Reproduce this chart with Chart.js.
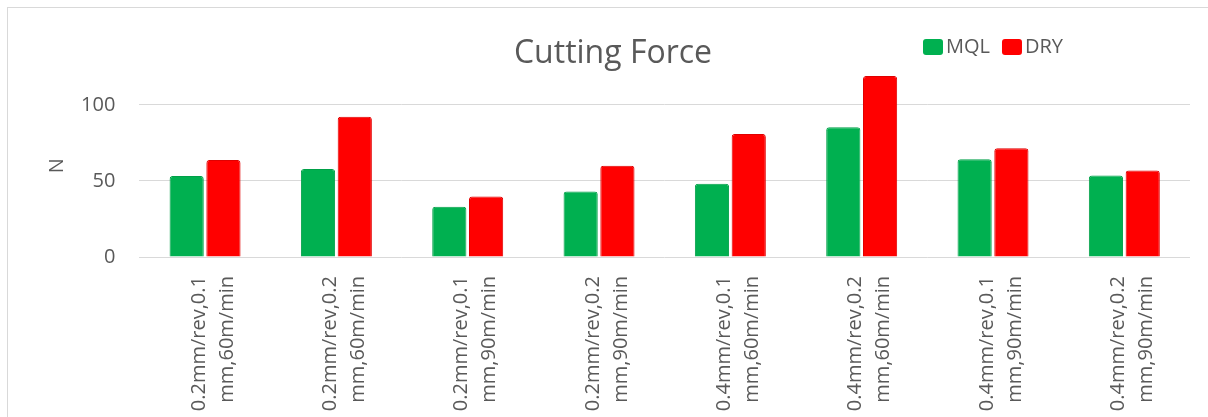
<!DOCTYPE html>
<html>
<head>
<meta charset="utf-8">
<title>Cutting Force</title>
<script src="https://cdn.jsdelivr.net/npm/chart.js@4"></script>
<style>
    html, body { margin: 0; padding: 0; background: #fff; overflow: hidden; width: 1208px; height: 417px; }
    #frame {
        position: absolute; left: 7px; top: 7px;
        width: 1230px; height: 420px;
        border: 1px solid #d9d9d9; background: #fff;
    }
</style>
</head>
<body>
<div id="frame"><canvas id="forceChart"></canvas></div>
<script>
// feed / depth of cut / speed combinations
const categories = [
    ['0.2mm/rev,0.1', 'mm,60m/min'],
    ['0.2mm/rev,0.2', 'mm,60m/min'],
    ['0.2mm/rev,0.1', 'mm,90m/min'],
    ['0.2mm/rev,0.2', 'mm,90m/min'],
    ['0.4mm/rev,0.1', 'mm,60m/min'],
    ['0.4mm/rev,0.2', 'mm,60m/min'],
    ['0.4mm/rev,0.1', 'mm,90m/min'],
    ['0.4mm/rev,0.2', 'mm,90m/min']
];
const mqlForce = [53.3, 57.8, 33.1, 43.0, 48.2, 85.3, 64.3, 53.5];
const dryForce = [63.8, 92.2, 39.7, 60.0, 80.9, 119.0, 71.5, 56.8];
const yTicks = [0, 50, 100];

const textGray = '#595959';
const gridGray = '#d9d9d9';

// legend drawn on the title line, right of the title
const sideLegend = {
    id: 'sideLegend',
    afterDraw(chart) {
        const ctx = chart.ctx;
        ctx.save();
        ctx.font = '20px "Open Sans"';
        ctx.textBaseline = 'middle';
        ctx.textAlign = 'left';
        let x = 915;
        const y = 39;
        chart.data.datasets.forEach(ds => {
            ctx.fillStyle = ds.backgroundColor;
            ctx.beginPath();
            ctx.roundRect(x, y - 8, 20, 16, 3);
            ctx.fill();
            x += 23;
            ctx.fillStyle = textGray;
            ctx.fillText(ds.label, x, y);
            x += ctx.measureText(ds.label).width + 12;
        });
        ctx.restore();
    }
};

const ctx = document.getElementById('forceChart').getContext('2d');
const forceChart = new Chart(ctx, {
    type: 'bar',
    data: {
        labels: categories,
        datasets: [{
            label: 'MQL',
            data: mqlForce,
            backgroundColor: '#00b050',
            borderColor: '#00a048',
            borderWidth: 1,
            borderRadius: 3
        }, {
            label: 'DRY',
            data: dryForce,
            backgroundColor: '#ff0000',
            borderColor: '#e00000',
            borderWidth: 1,
            borderRadius: 3
        }]
    },
    options: {
        responsive: true,
        maintainAspectRatio: false,
        animation: false,
        categoryPercentage: 0.56,
        barPercentage: 0.93,
        layout: { padding: { left: 28, right: 48, top: 0, bottom: 0 } },
        plugins: {
            legend: { display: false },
            tooltip: { enabled: false },
            title: {
                display: true,
                text: 'Cutting Force',
                color: textGray,
                font: { family: '"Open Sans"', size: 32, weight: 'normal' },
                padding: { top: 27, bottom: 1 }
            }
        },
        scales: {
            x: {
                grid: { display: false, drawTicks: false },
                border: { display: false },
                ticks: {
                    color: textGray,
                    font: { family: '"Open Sans"', size: 20, lineHeight: 1.4 },
                    minRotation: 90,
                    maxRotation: 90,
                    autoSkip: false,
                    padding: 19,
                    labelOffset: -6
                },
                afterFit(scale) { scale.height = 171; }
            },
            y: {
                min: 0,
                max: 120,
                grid: { color: gridGray, drawTicks: false },
                border: { display: false },
                ticks: {
                    color: textGray,
                    font: { family: '"Open Sans"', size: 20 },
                    padding: 24
                },
                title: {
                    display: true,
                    text: 'N',
                    color: textGray,
                    font: { family: '"Open Sans"', size: 20 },
                    padding: { top: 9, bottom: 0 }
                },
                afterBuildTicks(scale) {
                    scale.ticks = yTicks.map(v => ({ value: v }));
                },
                afterFit(scale) { scale.width = 103.4; }
            }
        }
    },
    plugins: [sideLegend]
});
</script>
</body>
</html>
